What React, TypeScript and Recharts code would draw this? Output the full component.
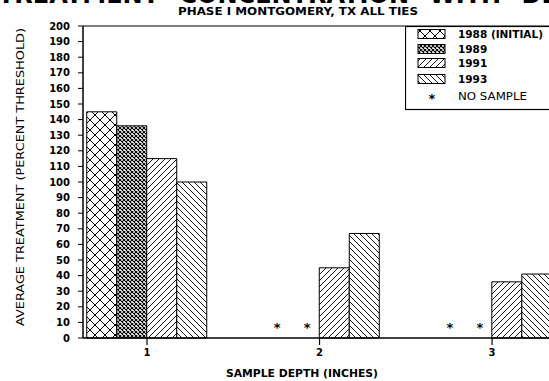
import React from 'react';
import { BarChart, Bar, XAxis, YAxis, Legend, ReferenceLine, Rectangle } from 'recharts';

const depths = [1, 2, 3];
const seriesNames = ['1988 (INITIAL)', '1989', '1991', '1993'];
const seriesKeys = ['y1988', 'y1989', 'y1991', 'y1993'];
const values1988: (number | null)[] = [145, null, null];
const values1989: (number | null)[] = [136, null, null];
const values1991: (number | null)[] = [115, 45, 36];
const values1993: (number | null)[] = [100, 67, 41];
const yTicks = [0, 10, 20, 30, 40, 50, 60, 70, 80, 90, 100, 110, 120, 130, 140, 150, 160, 170, 180, 190, 200];
const xTicks = [1, 2, 3];
const noSampleText = 'NO SAMPLE';
const titleText = 'TREATMENT CONCENTRATION WITH DEPTH';
const subtitleText = 'PHASE I  MONTGOMERY, TX  ALL TIES';
const yLabelText = 'AVERAGE TREATMENT (PERCENT THRESHOLD)';
const xLabelText = 'SAMPLE DEPTH (INCHES)';

const allValues = [values1988, values1989, values1991, values1993];
const patternIds = ['p1988', 'p1989', 'p1991', 'p1993'];

const data = depths.map((d, i) => {
  const row: any = { depth: d };
  seriesKeys.forEach((k, s) => {
    row[k] = allValues[s][i] ?? 0;
    row['ns' + k] = allValues[s][i] == null;
  });
  return row;
});

const FONT = '"DejaVu Sans", Verdana, sans-serif';

const makeShape = (key: string) => (props: any) => {
  const { x, y, width, height, payload } = props;
  if (payload && payload['ns' + key]) {
    const base = y + (height || 0);
    return (
      <text x={x + width / 2 + 3} y={base - 6} textAnchor="middle" fontFamily={FONT} fontSize={13} fontWeight="bold" fill="#000" stroke="none">
        *
      </text>
    );
  }
  return <Rectangle {...props} />;
};

const LegendBox = () => (
  <svg width={160} height={86} style={{ display: 'block' }}>
    <rect x={0.5} y={0.5} width={170} height={83} fill="#fff" stroke="#000" strokeWidth={1.2} />
    {seriesNames.map((n, i) => {
      const cy = [8, 23, 37, 53][i];
      return (
        <g key={n}>
          <rect x={13} y={cy - 4.5} width={27} height={9} fill={`url(#${patternIds[i]})`} stroke="#000" strokeWidth={1} />
          <text x={53} y={cy + 4} fontFamily={FONT} fontSize={10.5} fontWeight="bold" fill="#000">{n}</text>
        </g>
      );
    })}
    <text x={27} y={77} textAnchor="middle" fontFamily={FONT} fontSize={13} fontWeight="bold" fill="#000">*</text>
    <text x={53} y={74} fontFamily={FONT} fontSize={10.5} fill="#000" textLength={69} lengthAdjust="spacingAndGlyphs">{noSampleText}</text>
  </svg>
);

export default function App() {
  return (
    <div style={{ position: 'absolute', left: 0, top: 0, width: 549, height: 381, overflow: 'hidden', background: '#fff' }}>
      <BarChart
        width={549}
        height={381}
        data={data}
        margin={{ top: 26, right: 0, bottom: 0, left: 0 }}
        barGap={0}
        barSize={30}
      >
        <defs>
          <pattern id="p1988" patternUnits="userSpaceOnUse" width={10} height={10}>
            <rect width={10} height={10} fill="#fff" />
            <path d="M0,0 L10,10 M10,0 L0,10" stroke="#000" strokeWidth={1} />
          </pattern>
          <pattern id="p1989" patternUnits="userSpaceOnUse" width={4} height={4}>
            <rect width={4} height={4} fill="#fff" />
            <path d="M0,0 L4,4 M4,0 L0,4" stroke="#000" strokeWidth={1.1} />
          </pattern>
          <pattern id="p1991" patternUnits="userSpaceOnUse" width={6} height={6}>
            <rect width={6} height={6} fill="#fff" />
            <path d="M0,6 L6,0 M-1,1 L1,-1 M5,7 L7,5" stroke="#000" strokeWidth={0.9} />
          </pattern>
          <pattern id="p1993" patternUnits="userSpaceOnUse" width={6} height={6}>
            <rect width={6} height={6} fill="#fff" />
            <path d="M0,0 L6,6 M-1,5 L1,7 M5,-1 L7,1" stroke="#000" strokeWidth={0.9} />
          </pattern>
        </defs>
        <text x={-2} y={3} fontFamily={FONT} fontSize={24} fontWeight="bold" fill="#000" wordSpacing={12}>
          {titleText}
        </text>
        <text x={298} y={15} textAnchor="middle" fontFamily={FONT} fontSize={10} fontWeight="bold" fill="#000" textLength={240} lengthAdjust="spacingAndGlyphs">
          {subtitleText}
        </text>
        <text x={302} y={377} textAnchor="middle" fontFamily={FONT} fontSize={10} fontWeight="bold" fill="#000" textLength={152} lengthAdjust="spacingAndGlyphs">
          {xLabelText}
        </text>
        <text
          x={20}
          y={177}
          textAnchor="middle"
          transform="rotate(-90 20 177)"
          dominantBaseline="central"
          fontFamily={FONT}
          fontSize={11}
          fill="#000"
          textLength={298}
          lengthAdjust="spacingAndGlyphs"
        >
          {yLabelText}
        </text>
        <XAxis
          dataKey="depth"
          type="number"
          domain={[0.629, 3.33]}
          allowDataOverflow
          ticks={xTicks}
          height={43}
          tickSize={7}
          tickMargin={4}
          axisLine={{ stroke: '#000', strokeWidth: 1.5 }}
          tickLine={{ stroke: '#000', strokeWidth: 1.2 }}
          tick={{ fill: '#000', fontFamily: FONT, fontSize: 10, fontWeight: 'bold' }}
        />
        <YAxis
          type="number"
          domain={[0, 200]}
          ticks={yTicks}
          interval={0}
          width={83}
          tickSize={5}
          tickMargin={8}
          axisLine={{ stroke: '#000', strokeWidth: 1.5 }}
          tickLine={{ stroke: '#000', strokeWidth: 1 }}
          tick={{ fill: '#000', fontFamily: FONT, fontSize: 10, fontWeight: 'bold' }}
        />
        <ReferenceLine y={200} stroke="#000" strokeWidth={1.2} />
        <Legend
          layout="horizontal"
          verticalAlign="middle"
          align="center"
          wrapperStyle={{ position: 'absolute', left: 405, top: 26, width: 160, height: 86 }}
          content={() => <LegendBox />}
        />
        {seriesKeys.map((k, i) => (
          <Bar
            key={k}
            dataKey={k}
            name={seriesNames[i]}
            fill={`url(#${patternIds[i]})`}
            stroke="#000"
            strokeWidth={1}
            isAnimationActive={false}
            shape={makeShape(k)}
          />
        ))}
      </BarChart>
    </div>
  );
}
